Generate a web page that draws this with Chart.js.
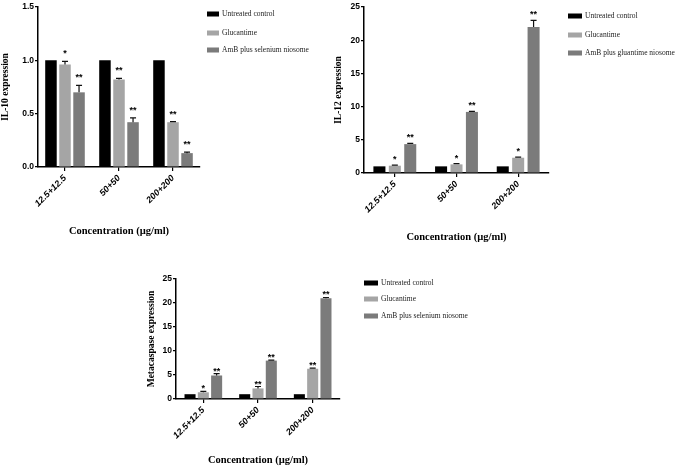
<!DOCTYPE html>
<html>
<head>
<meta charset="utf-8">
<script src="https://cdn.jsdelivr.net/npm/chart.js@4.4.1/dist/chart.umd.min.js"></script>
<style>
  body { margin: 0; background: #fff; }
  #wrap { position: relative; width: 677px; height: 469px; overflow: hidden; }
  canvas { position: absolute; }
</style>
</head>
<body>
<div id="wrap">
  <canvas id="il10" width="330" height="240" style="left:0px;top:0px"></canvas>
  <canvas id="il12" width="347" height="245" style="left:330px;top:0px"></canvas>
  <canvas id="meta" width="360" height="219" style="left:140px;top:250px"></canvas>
</div>
<script>
// categories and series
const categories = ['12.5+12.5', '50+50', '200+200'];
const seriesSelenium = ['Untreated control', 'Glucantime', 'AmB plus selenium niosome'];
const seriesGluantime = ['Untreated control', 'Glucantime', 'AmB plus gluantime niosome'];

// IL-10
const il10Control = [1, 1, 1];
const il10Glucantime = [0.96, 0.82, 0.42];
const il10AmB = [0.70, 0.42, 0.13];
const il10GlucErr = [0.03, 0.01, 0.005];
const il10AmBErr = [0.065, 0.04, 0.01];
const il10GlucStars = ['*', '**', '**'];
const il10AmBStars = ['**', '**', '**'];
const il10Ticks = [0, 0.5, 1.0, 1.5];

// IL-12
const il12Control = [1, 1, 1];
const il12Glucantime = [1.1, 1.3, 2.3];
const il12AmB = [4.35, 9.2, 22.0];
const il12GlucErr = [0.08, 0.1, 0.08];
const il12AmBErr = [0.1, 0.08, 1.0];
const il12GlucStars = ['*', '*', '*'];
const il12AmBStars = ['**', '**', '**'];

// Metacaspase
const metaControl = [1, 1, 1];
const metaGlucantime = [1.4, 2.2, 6.3];
const metaAmB = [4.9, 8.0, 21.0];
const metaGlucErr = [0.2, 0.4, 0.15];
const metaAmBErr = [0.4, 0.1, 0.15];
const metaGlucStars = ['*', '**', '**'];
const metaAmBStars = ['**', '**', '**'];

const colors = ['#000000', '#a5a5a5', '#7b7b7b'];

// error bars, significance stars and the side legend
const marksPlugin = {
  id: 'marks',
  afterDatasetsDraw(chart, args, opts) {
    const ctx = chart.ctx;
    const y = chart.scales.y;
    ctx.save();
    chart.data.datasets.forEach((ds, i) => {
      const meta = chart.getDatasetMeta(i);
      meta.data.forEach((bar, j) => {
        const v = ds.data[j];
        const e = ds.errors ? ds.errors[j] : 0;
        const top = y.getPixelForValue(v + e);
        if (e) {
          ctx.strokeStyle = '#111';
          ctx.lineWidth = 1.2;
          ctx.beginPath();
          ctx.moveTo(bar.x, bar.y);
          ctx.lineTo(bar.x, top);
          ctx.moveTo(bar.x - 3, top);
          ctx.lineTo(bar.x + 3, top);
          ctx.stroke();
        }
        if (ds.stars && ds.stars[j]) {
          ctx.fillStyle = '#000';
          ctx.font = 'bold 9px "Liberation Sans", Arial';
          ctx.textAlign = 'center';
          ctx.textBaseline = 'alphabetic';
          ctx.fillText(ds.stars[j], bar.x, top - opts.starGap + 6);
        }
      });
    });
    // legend
    const area = chart.chartArea;
    ctx.font = '7.5px "Liberation Serif", "Times New Roman", serif';
    ctx.textBaseline = 'middle';
    ctx.textAlign = 'left';
    chart.data.datasets.forEach((ds, i) => {
      const cy = area.top + opts.legendY[i];
      const bx = area.right + opts.legendDx;
      ctx.fillStyle = ds.backgroundColor;
      ctx.fillRect(bx, cy - 2.5, opts.boxW, 5);
      ctx.fillStyle = '#222';
      ctx.fillText(ds.label, bx + opts.boxW + 3, cy);
    });
    ctx.restore();
  }
};

function makeChart(id, o) {
  const datasets = o.series.map((name, i) => ({
    label: name,
    data: o.values[i],
    errors: o.errors[i],
    stars: o.stars[i],
    backgroundColor: colors[i],
    borderWidth: 0,
    categoryPercentage: o.catPct,
    barPercentage: o.barPct
  }));
  return new Chart(document.getElementById(id), {
    type: 'bar',
    data: { labels: categories, datasets: datasets },
    plugins: [marksPlugin],
    options: {
      responsive: false,
      animation: false,
      layout: { padding: o.padding },
      plugins: {
        legend: { display: false },
        tooltip: { enabled: false },
        marks: { starGap: o.starGap, legendDx: o.legendDx, legendY: o.legendY, boxW: o.boxW }
      },
      scales: {
        x: {
          afterFit: s => { s.height = o.xHeight; },
          grid: { display: true, drawOnChartArea: false, offset: false, tickLength: 4, color: '#000', lineWidth: 1.2 },
          border: { color: '#000', width: 1.5 },
          ticks: {
            color: '#000', minRotation: 45, maxRotation: 45, padding: 2,
            font: { family: '"Liberation Sans", Arial', size: 9, weight: 'bold', style: 'italic' }
          },
          title: {
            display: true, text: 'Concentration (µg/ml)', color: '#000',
            padding: { top: 0, bottom: o.xTitlePad },
            font: { family: '"Liberation Serif", "Times New Roman", serif', size: 10.5, weight: 'bold' }
          }
        },
        y: {
          min: 0, max: o.max,
          afterFit: s => { s.width = o.yWidth; },
          afterBuildTicks: s => { if (o.ticks) s.ticks = o.ticks.map(v => ({ value: v })); },
          grid: { display: true, drawOnChartArea: false, tickLength: 3, color: '#000', lineWidth: 1.2 },
          border: { color: '#000', width: 1.5 },
          ticks: {
            color: '#000', stepSize: o.step, padding: 1,
            callback: v => o.decimals ? Number(v).toFixed(o.decimals) : v,
            font: { family: '"Liberation Sans", Arial', size: 8.5, weight: 'bold' }
          },
          title: {
            display: true, text: o.yTitle, color: '#000',
            padding: { top: 0, bottom: 0 },
            font: { family: '"Liberation Serif", "Times New Roman", serif', size: 9.5, weight: 'bold' }
          }
        }
      }
    }
  });
}

makeChart('il10', {
  series: seriesSelenium,
  values: [il10Control, il10Glucantime, il10AmB],
  errors: [null, il10GlucErr, il10AmBErr],
  stars: [null, il10GlucStars, il10AmBStars],
  yTitle: 'IL-10 expression', max: 1.5, step: 0.5, decimals: 1, ticks: il10Ticks,
  catPct: 0.78, barPct: 0.82,
  padding: { left: 0, top: 7, right: 130, bottom: 0 },
  yWidth: 38, xHeight: 73, xTitlePad: 2,
  starGap: 11, legendDx: 7, legendY: [7, 26, 43], boxW: 12
});

makeChart('il12', {
  series: seriesGluantime,
  values: [il12Control, il12Glucantime, il12AmB],
  errors: [null, il12GlucErr, il12AmBErr],
  stars: [null, il12GlucStars, il12AmBStars],
  yTitle: 'IL-12 expression', max: 25, step: 5, decimals: 0,
  catPct: 0.75, barPct: 0.78,
  padding: { left: 3, top: 7, right: 128, bottom: 0 },
  yWidth: 31, xHeight: 72, xTitlePad: 1,
  starGap: 9, legendDx: 19, legendY: [9, 28, 46], boxW: 14
});

makeChart('meta', {
  series: seriesSelenium,
  values: [metaControl, metaGlucantime, metaAmB],
  errors: [null, metaGlucErr, metaAmBErr],
  stars: [null, metaGlucStars, metaAmBStars],
  yTitle: 'Metacaspase expression', max: 25, step: 5, decimals: 0,
  catPct: 0.73, barPct: 0.83,
  padding: { left: 6, top: 29, right: 160, bottom: 0 },
  yWidth: 30, xHeight: 70, xTitlePad: 2,
  starGap: 6, legendDx: 24, legendY: [4, 20, 37], boxW: 14
});
</script>
</body>
</html>
